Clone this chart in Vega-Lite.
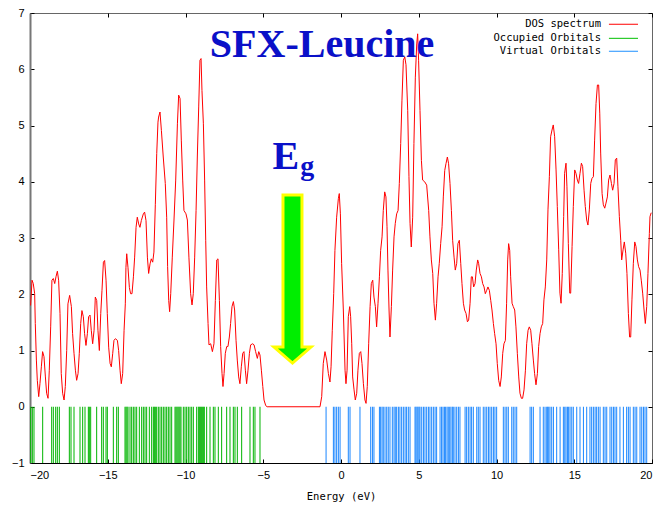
{
  "$schema": "https://vega.github.io/schema/vega-lite/v6.json",
  "width": 622,
  "height": 450,
  "autosize": {"type": "none"},
  "padding": {"left": 30, "top": 13, "right": 8, "bottom": 45},
  "background": "white",
  "config": {"view": {"stroke": "#666666", "strokeWidth": 1}},
  "datasets": {
    "dos": [
      {"e":-19.96,"d":1.80},{"e":-19.87,"d":2.25},{"e":-19.79,"d":2.19},{"e":-19.70,"d":2.01},{"e":-19.66,"d":1.48},{"e":-19.59,"d":0.83},{"e":-19.53,"d":0.47},{"e":-19.44,"d":0.18},{"e":-19.36,"d":0.41},{"e":-19.27,"d":0.71},{"e":-19.19,"d":0.98},{"e":-19.10,"d":0.89},{"e":-19.01,"d":0.53},{"e":-18.93,"d":0.24},{"e":-18.84,"d":0.15},{"e":-18.76,"d":0.65},{"e":-18.67,"d":1.42},{"e":-18.59,"d":2.25},{"e":-18.50,"d":2.28},{"e":-18.41,"d":2.19},{"e":-18.33,"d":2.31},{"e":-18.24,"d":2.41},{"e":-18.16,"d":2.25},{"e":-18.07,"d":1.66},{"e":-17.99,"d":0.59},{"e":-17.90,"d":0.24},{"e":-17.81,"d":0.12},{"e":-17.73,"d":0.36},{"e":-17.64,"d":1.00},{"e":-17.56,"d":1.83},{"e":-17.45,"d":1.98},{"e":-17.34,"d":1.78},{"e":-17.26,"d":1.30},{"e":-17.17,"d":0.95},{"e":-17.08,"d":0.65},{"e":-17.00,"d":0.47},{"e":-16.91,"d":0.59},{"e":-16.83,"d":0.95},{"e":-16.74,"d":1.48},{"e":-16.66,"d":1.71},{"e":-16.57,"d":1.60},{"e":-16.49,"d":1.30},{"e":-16.40,"d":1.09},{"e":-16.31,"d":1.30},{"e":-16.23,"d":1.60},{"e":-16.14,"d":1.63},{"e":-16.06,"d":1.36},{"e":-15.97,"d":1.12},{"e":-15.88,"d":1.36},{"e":-15.80,"d":1.95},{"e":-15.71,"d":1.89},{"e":-15.63,"d":1.36},{"e":-15.54,"d":1.00},{"e":-15.45,"d":1.66},{"e":-15.37,"d":2.07},{"e":-15.28,"d":2.57},{"e":-15.20,"d":2.60},{"e":-15.11,"d":2.25},{"e":-15.03,"d":1.66},{"e":-14.94,"d":1.06},{"e":-14.85,"d":0.77},{"e":-14.77,"d":0.71},{"e":-14.68,"d":0.95},{"e":-14.60,"d":1.18},{"e":-14.51,"d":1.21},{"e":-14.38,"d":1.18},{"e":-14.30,"d":1.00},{"e":-14.21,"d":0.65},{"e":-14.13,"d":0.41},{"e":-14.04,"d":0.59},{"e":-13.95,"d":1.36},{"e":-13.87,"d":1.83},{"e":-13.83,"d":2.48},{"e":-13.78,"d":2.72},{"e":-13.70,"d":2.48},{"e":-13.61,"d":2.12},{"e":-13.53,"d":2.01},{"e":-13.44,"d":2.01},{"e":-13.35,"d":2.31},{"e":-13.27,"d":2.66},{"e":-13.18,"d":3.19},{"e":-13.10,"d":3.37},{"e":-13.01,"d":3.25},{"e":-12.93,"d":3.19},{"e":-12.84,"d":3.31},{"e":-12.71,"d":3.43},{"e":-12.63,"d":3.46},{"e":-12.54,"d":3.31},{"e":-12.45,"d":2.66},{"e":-12.37,"d":2.37},{"e":-12.28,"d":2.54},{"e":-12.20,"d":2.63},{"e":-12.11,"d":2.57},{"e":-12.03,"d":2.75},{"e":-11.94,"d":3.60},{"e":-11.85,"d":4.50},{"e":-11.77,"d":5.06},{"e":-11.73,"d":5.15},{"e":-11.64,"d":5.24},{"e":-11.55,"d":4.91},{"e":-11.43,"d":4.44},{"e":-11.30,"d":3.97},{"e":-11.21,"d":3.37},{"e":-11.15,"d":2.49},{"e":-11.08,"d":1.89},{"e":-11.02,"d":1.69},{"e":-10.95,"d":2.01},{"e":-10.85,"d":2.66},{"e":-10.74,"d":3.32},{"e":-10.63,"d":4.03},{"e":-10.52,"d":5.03},{"e":-10.44,"d":5.54},{"e":-10.35,"d":5.48},{"e":-10.27,"d":4.74},{"e":-10.18,"d":4.03},{"e":-10.10,"d":3.49},{"e":-9.97,"d":3.43},{"e":-9.88,"d":3.32},{"e":-9.78,"d":2.66},{"e":-9.67,"d":2.01},{"e":-9.58,"d":1.81},{"e":-9.50,"d":2.01},{"e":-9.41,"d":2.66},{"e":-9.32,"d":3.49},{"e":-9.24,"d":4.44},{"e":-9.15,"d":5.33},{"e":-9.07,"d":6.16},{"e":-9.00,"d":6.19},{"e":-8.94,"d":5.62},{"e":-8.85,"d":5.03},{"e":-8.77,"d":4.03},{"e":-8.70,"d":2.96},{"e":-8.64,"d":2.13},{"e":-8.55,"d":1.48},{"e":-8.49,"d":1.10},{"e":-8.38,"d":1.12},{"e":-8.27,"d":0.98},{"e":-8.17,"d":1.12},{"e":-8.08,"d":1.89},{"e":-7.99,"d":2.61},{"e":-7.91,"d":2.63},{"e":-7.82,"d":1.89},{"e":-7.74,"d":1.07},{"e":-7.65,"d":0.59},{"e":-7.59,"d":0.36},{"e":-7.52,"d":0.59},{"e":-7.44,"d":0.95},{"e":-7.35,"d":1.07},{"e":-7.27,"d":1.07},{"e":-7.18,"d":1.24},{"e":-7.10,"d":1.48},{"e":-7.01,"d":1.78},{"e":-6.92,"d":1.87},{"e":-6.84,"d":1.72},{"e":-6.75,"d":1.18},{"e":-6.67,"d":0.83},{"e":-6.58,"d":0.53},{"e":-6.50,"d":0.41},{"e":-6.41,"d":0.71},{"e":-6.32,"d":0.95},{"e":-6.24,"d":0.98},{"e":-6.15,"d":0.65},{"e":-6.07,"d":0.41},{"e":-5.98,"d":0.65},{"e":-5.89,"d":0.95},{"e":-5.81,"d":1.10},{"e":-5.68,"d":1.12},{"e":-5.59,"d":1.10},{"e":-5.49,"d":0.98},{"e":-5.38,"d":0.86},{"e":-5.29,"d":0.98},{"e":-5.21,"d":0.92},{"e":-5.12,"d":0.65},{"e":-5.03,"d":0.36},{"e":-4.95,"d":0.12},{"e":-4.84,"d":0.02},{"e":-4.75,"d":0.00},{"e":-1.35,"d":0.00},{"e":-1.24,"d":0.18},{"e":-1.14,"d":0.77},{"e":-1.03,"d":0.98},{"e":-0.92,"d":0.83},{"e":-0.81,"d":0.59},{"e":-0.71,"d":0.44},{"e":-0.64,"d":0.71},{"e":-0.56,"d":1.36},{"e":-0.47,"d":2.01},{"e":-0.39,"d":2.78},{"e":-0.28,"d":3.37},{"e":-0.17,"d":3.70},{"e":-0.11,"d":3.79},{"e":-0.04,"d":3.43},{"e":0.04,"d":2.55},{"e":0.15,"d":1.72},{"e":0.26,"d":0.65},{"e":0.32,"d":0.41},{"e":0.39,"d":0.65},{"e":0.47,"d":1.60},{"e":0.56,"d":1.78},{"e":0.62,"d":1.60},{"e":0.69,"d":1.12},{"e":0.75,"d":0.53},{"e":0.84,"d":0.30},{"e":0.92,"d":0.12},{"e":1.01,"d":0.24},{"e":1.09,"d":0.65},{"e":1.18,"d":0.95},{"e":1.27,"d":0.98},{"e":1.35,"d":0.77},{"e":1.44,"d":0.41},{"e":1.54,"d":0.12},{"e":1.61,"d":0.06},{"e":1.69,"d":0.36},{"e":1.78,"d":1.12},{"e":1.87,"d":1.78},{"e":1.95,"d":2.19},{"e":2.04,"d":2.25},{"e":2.12,"d":1.95},{"e":2.21,"d":1.78},{"e":2.29,"d":1.42},{"e":2.38,"d":1.84},{"e":2.47,"d":2.31},{"e":2.55,"d":2.78},{"e":2.64,"d":3.02},{"e":2.72,"d":3.49},{"e":2.81,"d":3.82},{"e":2.89,"d":3.73},{"e":2.96,"d":3.20},{"e":3.02,"d":2.43},{"e":3.09,"d":1.72},{"e":3.15,"d":1.24},{"e":3.24,"d":1.78},{"e":3.32,"d":2.43},{"e":3.41,"d":3.02},{"e":3.49,"d":3.26},{"e":3.58,"d":3.43},{"e":3.67,"d":3.49},{"e":3.75,"d":3.97},{"e":3.84,"d":4.68},{"e":3.92,"d":5.45},{"e":4.01,"d":6.16},{"e":4.10,"d":6.22},{"e":4.18,"d":6.08},{"e":4.29,"d":5.27},{"e":4.37,"d":4.09},{"e":4.44,"d":3.26},{"e":4.52,"d":2.84},{"e":4.61,"d":3.37},{"e":4.69,"d":4.68},{"e":4.78,"d":5.86},{"e":4.87,"d":6.45},{"e":4.93,"d":6.63},{"e":4.99,"d":6.16},{"e":5.08,"d":5.27},{"e":5.17,"d":4.38},{"e":5.25,"d":4.03},{"e":5.38,"d":4.00},{"e":5.51,"d":3.94},{"e":5.64,"d":3.49},{"e":5.72,"d":3.02},{"e":5.81,"d":2.61},{"e":5.90,"d":2.37},{"e":5.98,"d":1.84},{"e":6.07,"d":1.54},{"e":6.15,"d":1.84},{"e":6.24,"d":2.31},{"e":6.32,"d":2.55},{"e":6.41,"d":2.90},{"e":6.50,"d":3.20},{"e":6.58,"d":3.73},{"e":6.67,"d":4.20},{"e":6.75,"d":4.32},{"e":6.84,"d":4.44},{"e":6.92,"d":4.32},{"e":7.01,"d":3.97},{"e":7.10,"d":3.49},{"e":7.18,"d":2.96},{"e":7.27,"d":2.66},{"e":7.35,"d":2.43},{"e":7.44,"d":2.55},{"e":7.52,"d":2.90},{"e":7.61,"d":2.96},{"e":7.70,"d":2.55},{"e":7.78,"d":2.19},{"e":7.87,"d":1.84},{"e":7.95,"d":1.72},{"e":8.04,"d":1.66},{"e":8.13,"d":1.51},{"e":8.21,"d":1.54},{"e":8.30,"d":1.84},{"e":8.38,"d":2.31},{"e":8.45,"d":2.31},{"e":8.53,"d":2.13},{"e":8.62,"d":2.19},{"e":8.70,"d":2.43},{"e":8.79,"d":2.61},{"e":8.85,"d":2.55},{"e":8.94,"d":2.37},{"e":9.03,"d":2.31},{"e":9.11,"d":2.19},{"e":9.20,"d":2.13},{"e":9.28,"d":2.01},{"e":9.37,"d":2.07},{"e":9.45,"d":2.13},{"e":9.54,"d":2.07},{"e":9.63,"d":1.89},{"e":9.71,"d":1.72},{"e":9.80,"d":1.48},{"e":9.88,"d":1.30},{"e":9.97,"d":1.12},{"e":10.05,"d":0.77},{"e":10.14,"d":0.47},{"e":10.23,"d":0.36},{"e":10.31,"d":0.53},{"e":10.40,"d":0.95},{"e":10.48,"d":1.12},{"e":10.57,"d":1.18},{"e":10.65,"d":1.84},{"e":10.72,"d":2.61},{"e":10.78,"d":2.90},{"e":10.85,"d":2.78},{"e":10.91,"d":2.31},{"e":11.00,"d":1.84},{"e":11.08,"d":1.78},{"e":11.17,"d":1.72},{"e":11.25,"d":1.42},{"e":11.34,"d":0.95},{"e":11.43,"d":0.53},{"e":11.51,"d":0.24},{"e":11.60,"d":0.15},{"e":11.68,"d":0.15},{"e":11.77,"d":0.30},{"e":11.86,"d":0.65},{"e":11.94,"d":1.12},{"e":12.03,"d":1.36},{"e":12.11,"d":1.42},{"e":12.20,"d":1.36},{"e":12.28,"d":1.12},{"e":12.37,"d":0.83},{"e":12.45,"d":0.59},{"e":12.54,"d":0.39},{"e":12.63,"d":0.59},{"e":12.71,"d":1.07},{"e":12.80,"d":1.30},{"e":12.88,"d":1.42},{"e":12.97,"d":1.48},{"e":13.05,"d":1.90},{"e":13.14,"d":2.13},{"e":13.23,"d":2.61},{"e":13.31,"d":3.50},{"e":13.40,"d":4.09},{"e":13.48,"d":4.80},{"e":13.57,"d":4.92},{"e":13.65,"d":5.01},{"e":13.74,"d":4.80},{"e":13.83,"d":4.21},{"e":13.91,"d":3.56},{"e":14.00,"d":2.79},{"e":14.08,"d":2.02},{"e":14.15,"d":1.84},{"e":14.23,"d":2.37},{"e":14.32,"d":3.38},{"e":14.38,"d":4.15},{"e":14.47,"d":4.33},{"e":14.53,"d":3.91},{"e":14.62,"d":2.90},{"e":14.71,"d":2.02},{"e":14.77,"d":2.02},{"e":14.86,"d":2.85},{"e":14.94,"d":3.56},{"e":15.03,"d":4.21},{"e":15.11,"d":4.15},{"e":15.20,"d":4.03},{"e":15.28,"d":3.97},{"e":15.37,"d":4.15},{"e":15.46,"d":4.33},{"e":15.54,"d":4.27},{"e":15.63,"d":3.85},{"e":15.71,"d":3.56},{"e":15.80,"d":3.32},{"e":15.88,"d":3.23},{"e":15.97,"d":3.50},{"e":16.06,"d":3.97},{"e":16.14,"d":4.06},{"e":16.23,"d":4.09},{"e":16.31,"d":4.74},{"e":16.40,"d":5.39},{"e":16.49,"d":5.72},{"e":16.57,"d":5.72},{"e":16.64,"d":5.22},{"e":16.70,"d":4.51},{"e":16.79,"d":3.79},{"e":16.87,"d":3.59},{"e":16.96,"d":3.53},{"e":17.04,"d":3.62},{"e":17.13,"d":3.73},{"e":17.21,"d":4.03},{"e":17.30,"d":4.12},{"e":17.39,"d":3.97},{"e":17.47,"d":3.85},{"e":17.56,"d":3.97},{"e":17.64,"d":4.39},{"e":17.73,"d":4.42},{"e":17.81,"d":3.91},{"e":17.90,"d":3.38},{"e":17.99,"d":2.96},{"e":18.05,"d":2.61},{"e":18.14,"d":2.79},{"e":18.22,"d":2.93},{"e":18.31,"d":2.73},{"e":18.39,"d":2.37},{"e":18.48,"d":1.66},{"e":18.56,"d":1.24},{"e":18.63,"d":1.24},{"e":18.71,"d":1.90},{"e":18.80,"d":2.55},{"e":18.89,"d":2.93},{"e":18.97,"d":2.85},{"e":19.06,"d":2.61},{"e":19.14,"d":2.49},{"e":19.23,"d":2.43},{"e":19.31,"d":2.25},{"e":19.40,"d":2.02},{"e":19.49,"d":1.72},{"e":19.57,"d":1.48},{"e":19.66,"d":1.78},{"e":19.74,"d":2.37},{"e":19.83,"d":3.08},{"e":19.87,"d":3.38},{"e":19.95,"d":3.45}
    ],
    "occ": [
      {"e":-19.957},{"e":-19.850},{"e":-19.743},{"e":-19.185},{"e":-18.606},{"e":-18.499},{"e":-18.349},{"e":-18.242},{"e":-18.113},{"e":-17.470},{"e":-17.363},{"e":-17.170},{"e":-16.784},{"e":-16.613},{"e":-16.463},{"e":-16.248},{"e":-16.184},{"e":-16.098},{"e":-15.713},{"e":-15.391},{"e":-15.284},{"e":-15.112},{"e":-15.027},{"e":-14.641},{"e":-14.426},{"e":-14.319},{"e":-13.890},{"e":-13.826},{"e":-13.762},{"e":-13.697},{"e":-13.569},{"e":-13.462},{"e":-13.355},{"e":-13.248},{"e":-13.140},{"e":-12.969},{"e":-12.819},{"e":-12.711},{"e":-12.604},{"e":-12.497},{"e":-12.326},{"e":-12.176},{"e":-12.068},{"e":-12.004},{"e":-11.940},{"e":-11.854},{"e":-11.747},{"e":-11.640},{"e":-11.533},{"e":-11.425},{"e":-11.318},{"e":-11.211},{"e":-11.104},{"e":-10.997},{"e":-10.889},{"e":-10.675},{"e":-10.611},{"e":-10.547},{"e":-10.482},{"e":-10.418},{"e":-10.354},{"e":-10.289},{"e":-10.139},{"e":-10.032},{"e":-9.925},{"e":-9.818},{"e":-9.710},{"e":-9.603},{"e":-9.496},{"e":-9.282},{"e":-9.175},{"e":-9.110},{"e":-9.046},{"e":-8.982},{"e":-8.918},{"e":-8.853},{"e":-8.789},{"e":-8.639},{"e":-8.424},{"e":-8.210},{"e":-8.103},{"e":-7.889},{"e":-7.675},{"e":-7.353},{"e":-7.139},{"e":-6.924},{"e":-6.817},{"e":-6.667},{"e":-6.388},{"e":-5.853},{"e":-5.639},{"e":-5.532},{"e":-5.210}
    ],
    "virt": [
      {"e":-0.96},{"e":-0.49},{"e":-0.39},{"e":-0.28},{"e":-0.17},{"e":-0.06},{"e":0.47},{"e":0.58},{"e":1.22},{"e":1.91},{"e":2.02},{"e":2.12},{"e":2.47},{"e":2.55},{"e":2.64},{"e":2.72},{"e":2.83},{"e":2.94},{"e":3.04},{"e":3.15},{"e":3.30},{"e":3.41},{"e":3.49},{"e":3.58},{"e":3.69},{"e":3.79},{"e":3.90},{"e":4.01},{"e":4.12},{"e":4.22},{"e":4.33},{"e":4.44},{"e":4.76},{"e":4.82},{"e":4.89},{"e":4.95},{"e":5.02},{"e":5.08},{"e":5.19},{"e":5.30},{"e":5.40},{"e":5.51},{"e":5.62},{"e":5.72},{"e":5.83},{"e":5.94},{"e":6.05},{"e":6.15},{"e":6.37},{"e":6.47},{"e":6.56},{"e":6.65},{"e":6.73},{"e":6.82},{"e":6.90},{"e":6.99},{"e":7.07},{"e":7.16},{"e":7.22},{"e":7.33},{"e":7.44},{"e":7.55},{"e":7.65},{"e":7.98},{"e":8.08},{"e":8.19},{"e":8.30},{"e":8.40},{"e":8.51},{"e":8.73},{"e":8.83},{"e":8.94},{"e":9.15},{"e":9.26},{"e":9.37},{"e":9.48},{"e":9.58},{"e":9.69},{"e":9.80},{"e":9.90},{"e":10.01},{"e":10.44},{"e":10.55},{"e":10.66},{"e":10.76},{"e":10.98},{"e":11.08},{"e":11.19},{"e":11.30},{"e":12.16},{"e":12.26},{"e":12.37},{"e":12.80},{"e":13.01},{"e":13.12},{"e":13.23},{"e":13.29},{"e":13.36},{"e":13.44},{"e":13.55},{"e":13.66},{"e":13.87},{"e":14.09},{"e":14.30},{"e":14.39},{"e":14.47},{"e":14.56},{"e":14.64},{"e":14.73},{"e":14.84},{"e":14.94},{"e":15.16},{"e":15.37},{"e":15.59},{"e":15.80},{"e":16.01},{"e":16.12},{"e":16.23},{"e":16.34},{"e":16.44},{"e":16.55},{"e":16.66},{"e":16.87},{"e":16.98},{"e":17.09},{"e":17.30},{"e":17.41},{"e":17.52},{"e":17.62},{"e":17.73},{"e":17.94},{"e":18.16},{"e":18.37},{"e":18.48},{"e":18.59},{"e":18.80},{"e":18.91},{"e":19.02},{"e":19.23},{"e":19.34},{"e":19.45},{"e":19.55},{"e":19.66}
    ],
    "legend": [
      {"label": "DOS spectrum", "lx": 16.72, "lx1": 17.23, "lx2": 19.10, "ly": 6.80, "c": "#ff0000"},
      {"label": "Occupied Orbitals", "lx": 16.72, "lx1": 17.23, "lx2": 19.10, "ly": 6.55, "c": "#00c000"},
      {"label": "Virtual Orbitals", "lx": 16.72, "lx1": 17.23, "lx2": 19.10, "ly": 6.32, "c": "#1e90ff"}
    ]
  },
  "layer": [
    {
      "data": {"name": "occ"},
      "mark": {"type": "rule", "color": "#00b400", "strokeWidth": 1},
      "encoding": {
        "x": {"field": "e", "type": "quantitative", "scale": {"domain": [-20, 20], "nice": false},
              "axis": {"orient": "top", "values": [-20,-15,-10,-5,0,5,10,15,20], "labels": false, "title": null, "grid": false, "domain": false, "tickSize": -4, "tickColor": "#000000"}},
        "y": {"datum": -1, "type": "quantitative", "scale": {"domain": [-1, 7], "nice": false},
              "axis": {"orient": "right", "values": [-1,0,1,2,3,4,5,6,7], "labels": false, "title": null, "grid": false, "domain": false, "tickSize": -4, "tickColor": "#000000"}},
        "y2": {"datum": 0}
      }
    },
    {
      "data": {"name": "virt"},
      "mark": {"type": "rule", "color": "#1a86ff", "strokeWidth": 1},
      "encoding": {
        "x": {"field": "e", "type": "quantitative", "axis": null},
        "y": {"datum": -1, "type": "quantitative", "axis": null},
        "y2": {"datum": 0}
      }
    },
    {
      "data": {"name": "dos"},
      "mark": {"type": "line", "color": "#ff0000", "strokeWidth": 1, "interpolate": "linear"},
      "encoding": {
        "x": {"field": "e", "type": "quantitative",
              "axis": {"orient": "bottom", "values": [-20,-15,-10,-5,0,5,10,15,20], "title": "Energy (eV)", "grid": false, "domain": true, "domainColor": "#000000", "tickSize": -4, "tickColor": "#000000", "labelFont": "Liberation Sans", "labelFontSize": 11, "labelColor": "#000000", "labelPadding": 10, "titleFont": "DejaVu Sans Mono", "titleFontSize": 10.5, "titleFontWeight": "normal", "titleColor": "#000000", "titlePadding": 11}},
        "y": {"field": "d", "type": "quantitative",
              "axis": {"orient": "left", "values": [-1,0,1,2,3,4,5,6,7], "title": null, "grid": false, "domain": true, "domainColor": "#777777", "domainWidth": 2, "tickSize": -4, "tickColor": "#000000", "labelFont": "Liberation Sans", "labelFontSize": 11, "labelColor": "#000000", "labelPadding": 10}}
      }
    },
    {
      "data": {"values": [{"t": "SFX-Leucine", "x": -1.22, "y": 6.21}]},
      "mark": {"type": "text", "font": "Liberation Serif", "fontWeight": "bold", "fontSize": 40, "color": "#0a10c8", "align": "center", "baseline": "alphabetic"},
      "encoding": {
        "x": {"field": "x", "type": "quantitative", "axis": null},
        "y": {"field": "y", "type": "quantitative", "axis": null},
        "text": {"field": "t"}
      }
    },
    {
      "data": {"values": [{"t": "E", "x": -4.40, "y": 4.22, "s": 40}, {"t": "g", "x": -2.62, "y": 4.12, "s": 28}]},
      "mark": {"type": "text", "font": "Liberation Serif", "fontWeight": "bold", "color": "#0a10c8", "align": "left", "baseline": "alphabetic"},
      "encoding": {
        "x": {"field": "x", "type": "quantitative", "axis": null},
        "y": {"field": "y", "type": "quantitative", "axis": null},
        "text": {"field": "t"},
        "size": {"field": "s", "type": "quantitative", "scale": null, "legend": null}
      }
    },
    {
      "data": {"values": [{"x": -3.12, "y": 2.27}]},
      "mark": {"type": "point", "filled": true, "shape": "M-0.113,-1L0.113,-1L0.113,0.81L0.22,0.81L0,1L-0.22,0.81L-0.113,0.81Z", "size": 28224, "fill": "#00ee00", "stroke": "#ffff00", "strokeWidth": 3, "opacity": 1, "fillOpacity": 1, "strokeOpacity": 1},
      "encoding": {
        "x": {"field": "x", "type": "quantitative", "axis": null},
        "y": {"field": "y", "type": "quantitative", "axis": null}
      }
    },
    {
      "data": {"name": "legend"},
      "mark": {"type": "text", "font": "DejaVu Sans Mono", "fontSize": 10.5, "color": "#000000", "align": "right", "baseline": "middle"},
      "encoding": {
        "x": {"field": "lx", "type": "quantitative", "axis": null},
        "y": {"field": "ly", "type": "quantitative", "axis": null},
        "text": {"field": "label"}
      }
    },
    {
      "data": {"name": "legend"},
      "mark": {"type": "rule", "strokeWidth": 1},
      "encoding": {
        "x": {"field": "lx1", "type": "quantitative", "axis": null},
        "x2": {"field": "lx2"},
        "y": {"field": "ly", "type": "quantitative", "axis": null},
        "color": {"field": "c", "type": "nominal", "scale": null, "legend": null}
      }
    }
  ],
  "resolve": {"axis": {"x": "independent", "y": "independent"}}
}
